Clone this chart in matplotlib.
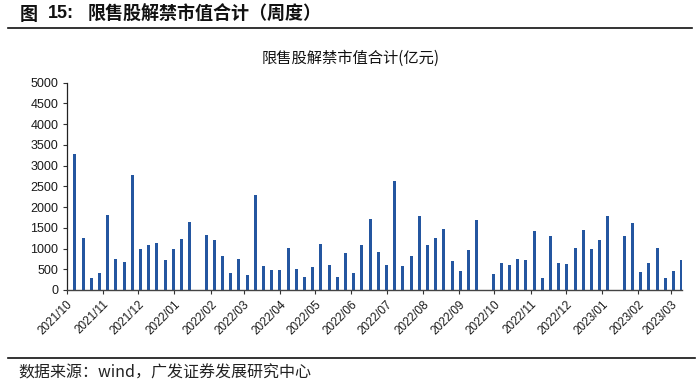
import matplotlib
matplotlib.use("Agg")
import matplotlib.pyplot as plt
from matplotlib.lines import Line2D
import numpy as np
import pandas as pd

plt.rcParams['font.family'] = ['Liberation Sans', 'Noto Sans CJK SC', 'DejaVu Sans']

# Weekly dates (Fridays), 76 weeks
week_dates = pd.date_range('2021-10-01', periods=76, freq='7D')
# Weekly unlock market value (亿元); NaN = no data (holiday weeks)
values = [300, 3280, 1260, 300, 415, 1800, 745, 672, 2783, 983,
          1075, 1145, 717, 1000, 1232, 1650, np.nan, 1315, 1215, 812,
          415, 755, 365, 2300, 590, 490, 490, 1020, 515, 315,
          565, 1105, 605, 315, 895, 415, 1080, 1705, 925, 605,
          2630, 590, 830, 1775, 1095, 1265, 1480, 690, 455, 975,
          1680, np.nan, 395, 648, 604, 757, 716, 1413, 294, 1312,
          648, 620, 1006, 1453, 995, 1195, 1792, np.nan, 1310, 1606,
          439, 652, 1010, 286, 463, 729]
month_ticks = pd.date_range('2021-10-01', '2023-03-01', freq='MS')
month_labels = [d.strftime('%Y/%m') for d in month_ticks]
y_ticks = list(range(0, 5001, 500))

fig = plt.figure(figsize=(7.0, 3.88), dpi=100)
ax = fig.add_axes([66.7/700, 98/388, 615/700, 207.3/388])

ax.bar(week_dates, values, width=2.7, color='#2456A0', zorder=2)
ax.set_xlim(week_dates[0], week_dates[-1])
ax.set_ylim(0, 5000)
ax.set_yticks(y_ticks)
ax.set_yticklabels([str(v) for v in y_ticks], fontsize=9, color='#1a1a1a')
ax.set_xticks(month_ticks)
ax.set_xticklabels(month_labels, rotation=45, ha='right', va='top',
                   rotation_mode='anchor', fontsize=8.5, color='#1a1a1a')
ax.tick_params(axis='x', length=3, width=0.8, color='#333333', pad=3)
ax.tick_params(axis='y', length=3, width=0.8, color='#333333', pad=3)
for s in ['top', 'right']:
    ax.spines[s].set_visible(False)
ax.spines['left'].set_color('#222222')
ax.spines['bottom'].set_color('#444444')
ax.spines['left'].set_linewidth(0.9)
ax.spines['bottom'].set_linewidth(1.0)

cjk = ['Noto Sans CJK SC', 'DejaVu Sans']
ty = 1 - 14/388
fig.text(20/700, ty, '图', fontsize=13, fontweight='bold', family=cjk,
         ha='left', va='center', color='#111111')
fig.text(48/700, ty, '15:', fontsize=13, fontweight='bold', family=['Liberation Sans'],
         ha='left', va='center', color='#111111')
fig.text(88/700, ty, '限售股解禁市值合计（周度）', fontsize=13,
         fontweight='bold', family=cjk, ha='left', va='center', color='#111111')
fig.add_artist(Line2D([8/700, 692/700], [1 - 28/388, 1 - 28/388],
                      color='#111111', lw=1.2, transform=fig.transFigure))
fig.text(351/700, 1 - 58/388, '限售股解禁市值合计(亿元)', fontsize=11,
         family=cjk, ha='center', va='center', color='#111111')
fig.add_artist(Line2D([8/700, 695/700], [1 - 357.7/388, 1 - 357.7/388],
                      color='#111111', lw=1.2, transform=fig.transFigure))
fig.text(18/700, 1 - 373/388, '数据来源：wind，广发证券发展研究中心', fontsize=11.5,
         family=cjk, ha='left', va='center', color='#222222')

fig.savefig('out.png', dpi=100)
